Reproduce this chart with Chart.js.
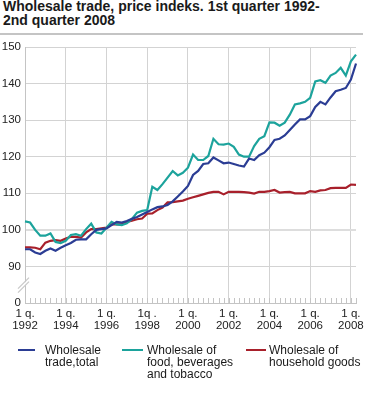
<!DOCTYPE html>
<html>
<head>
<meta charset="utf-8">
<script src="https://cdn.jsdelivr.net/npm/chart.js@4.4.1/dist/chart.umd.min.js"></script>
<style>
html,body{margin:0;padding:0;background:#fff;}
body{width:365px;height:394px;position:relative;overflow:hidden;font-family:"Liberation Sans",Arial,sans-serif;color:#1a1a1a;}
#title{position:absolute;left:3px;top:0px;font-weight:bold;font-size:14px;line-height:13.5px;white-space:nowrap;}
#rule{position:absolute;left:0;top:33px;width:363px;height:2px;background:#c4c4c4;}
canvas{position:absolute;left:0;top:0;}
.leg{position:absolute;font-size:12px;line-height:12px;white-space:nowrap;color:#1a1a1a;}
.sw{position:absolute;height:2.5px;}
</style>
</head>
<body>
<div id="title">Wholesale trade, price indeks. 1st quarter 1992-<br>2nd quarter 2008</div>
<div id="rule"></div>
<canvas id="c" width="365" height="394"></canvas>
<div id="legend"></div>
<script>
const quarters = [
 '1992Q1','1992Q2','1992Q3','1992Q4','1993Q1','1993Q2','1993Q3','1993Q4',
 '1994Q1','1994Q2','1994Q3','1994Q4','1995Q1','1995Q2','1995Q3','1995Q4',
 '1996Q1','1996Q2','1996Q3','1996Q4','1997Q1','1997Q2','1997Q3','1997Q4',
 '1998Q1','1998Q2','1998Q3','1998Q4','1999Q1','1999Q2','1999Q3','1999Q4',
 '2000Q1','2000Q2','2000Q3','2000Q4','2001Q1','2001Q2','2001Q3','2001Q4',
 '2002Q1','2002Q2','2002Q3','2002Q4','2003Q1','2003Q2','2003Q3','2003Q4',
 '2004Q1','2004Q2','2004Q3','2004Q4','2005Q1','2005Q2','2005Q3','2005Q4',
 '2006Q1','2006Q2','2006Q3','2006Q4','2007Q1','2007Q2','2007Q3','2007Q4',
 '2008Q1','2008Q2'
];
const wholesaleTotal = [
 94.7,94.7,93.8,93.4,94.3,94.9,94.3,95.1,
 95.8,96.4,97.3,97.4,97.4,98.8,100.0,100.2,
 100.4,101.3,102.2,102.0,102.4,103.0,103.5,104.2,
 104.9,105.6,106.2,106.4,106.8,107.8,109.1,110.5,
 112.0,115.0,116.1,118.0,118.2,119.8,119.0,118.2,
 118.4,118.0,117.6,117.3,119.5,119.1,120.4,121.1,
 122.6,124.6,124.9,125.8,127.3,128.8,130.2,130.2,
 131.1,133.6,135.0,134.3,136.2,137.9,138.3,138.8,
 141.1,145.5
];
const foodBeverages = [
 102.3,102.0,100.0,98.4,98.4,99.0,96.7,96.4,
 97.0,98.6,98.8,98.4,100.2,101.7,99.3,99.0,
 100.6,102.2,101.5,101.3,101.8,103.0,104.7,105.2,
 105.4,111.8,110.9,112.5,114.3,116.1,114.9,115.6,
 117.0,120.6,119.1,119.1,120.2,124.9,123.4,123.3,
 123.6,122.7,120.6,120.0,120.0,122.9,124.9,125.6,
 129.4,129.3,128.5,129.3,131.5,134.3,134.6,135.0,
 136.1,140.6,140.9,140.2,142.2,142.9,144.3,142.2,
 146.1,147.9
];
const householdGoods = [
 95.2,95.2,95.1,94.7,96.5,97.0,97.2,97.0,
 97.6,98.1,98.1,97.9,99.3,100.2,100.2,100.4,
 100.6,101.5,101.5,101.5,102.2,102.5,102.9,103.1,
 104.4,104.5,105.4,106.1,107.5,107.6,107.8,108.0,
 108.5,108.9,109.3,109.7,110.1,110.4,110.4,109.7,
 110.4,110.4,110.4,110.3,110.2,109.9,110.4,110.4,
 110.6,110.9,110.2,110.3,110.4,110.0,110.0,110.0,
 110.6,110.4,110.8,110.9,111.4,111.5,111.5,111.5,
 112.4,112.3
];
const seriesNames = [
 ['Wholesale','trade,total'],
 ['Wholesale of','food, beverages','and tobacco'],
 ['Wholesale of','household goods']
];
const seriesColors = ['#2b3d94','#1ca39c','#a8202b'];
const xTickLabels = [
 ['1 q.','1992'],['1 q.','1994'],['1 q.','1996'],['1q .','1998'],['1 q.','2000'],
 ['1 q.','2002'],['1 q.','2004'],['1 q.','2006'],['1 q.','2008']
];
const yTickValues = [80,90,100,110,120,130,140,150];
const yTickLabels = ['0','90','100','110','120','130','140','150'];

const extras = {
  id:'extras',
  beforeDatasetsDraw(chart){
    const ctx = chart.ctx, x = chart.scales.x, y = chart.scales.y;
    const b = chart.chartArea.bottom;
    ctx.save();
    ctx.strokeStyle = '#c4c4c4';
    ctx.lineWidth = 1;
    for (let i = 0; i < quarters.length; i++) {
      const px = Math.round(x.getPixelForValue(i)) + 0.5;
      ctx.beginPath(); ctx.moveTo(px, b); ctx.lineTo(px, b - 5); ctx.stroke();
    }
    // axis break
    const by = y.getPixelForValue(85.3);
    const lx = x.left;
    ctx.fillStyle = '#ffffff';
    ctx.beginPath();
    ctx.moveTo(lx - 6, by + 5); ctx.lineTo(lx + 3, by - 4);
    ctx.lineTo(lx + 3, by - 1); ctx.lineTo(lx - 6, by + 8); ctx.closePath(); ctx.fill();
    ctx.strokeStyle = '#c8c8c8';
    ctx.lineWidth = 1.2;
    ctx.beginPath(); ctx.moveTo(lx - 7, by + 5); ctx.lineTo(lx + 4, by - 6); ctx.stroke();
    ctx.beginPath(); ctx.moveTo(lx - 7, by + 9); ctx.lineTo(lx + 4, by - 2); ctx.stroke();
    ctx.restore();
  }
};

Chart.defaults.font.family = "'Liberation Sans', Arial, sans-serif";
Chart.defaults.font.size = 11.5;
Chart.defaults.color = '#222';

const chart = new Chart(document.getElementById('c'), {
  type:'line',
  data:{
    labels: quarters,
    datasets:[
      {label:seriesNames[0].join(' '), data:wholesaleTotal, borderColor:seriesColors[0]},
      {label:seriesNames[1].join(' '), data:foodBeverages, borderColor:seriesColors[1]},
      {label:seriesNames[2].join(' '), data:householdGoods, borderColor:seriesColors[2]}
    ].map(d => Object.assign(d, {borderWidth:2.2, pointRadius:0, tension:0, fill:false}))
  },
  options:{
    responsive:false,
    devicePixelRatio:1,
    animation:false,
    events:[],
    layout:{padding:{top:47,left:0,right:9,bottom:51}},
    plugins:{legend:{display:false},tooltip:{enabled:false},title:{display:false}},
    scales:{
      x:{
        type:'category',
        offset:false,
        afterBuildTicks(s){ s.ticks = xTickLabels.map((_, k) => ({value:k*8})); },
        afterFit(s){ s.height = 40; s.paddingLeft = 0; s.paddingRight = 0; },
        ticks:{autoSkip:false, maxRotation:0, padding:5, font:{size:11.5, lineHeight:1.05},
               callback:(v) => xTickLabels[v/8]},
        grid:{color:'#d3d3d3', lineWidth:1, drawTicks:false},
        border:{color:'#c4c4c4'}
      },
      y:{
        min:80, max:150,
        afterBuildTicks(s){ s.ticks = yTickValues.map(v => ({value:v})); },
        afterFit(s){ s.width = 25; s.paddingTop = 0; s.paddingBottom = 0; },
        ticks:{padding:4, callback:(v) => yTickLabels[yTickValues.indexOf(v)]},
        grid:{drawTicks:false,
              color:(c) => c.tick && c.tick.value === 100 ? '#dddddd' : '#d3d3d3',
              lineWidth:(c) => c.tick && c.tick.value === 100 ? 2 : 1},
        border:{color:'#c4c4c4'}
      }
    }
  },
  plugins:[extras]
});

// HTML legend built from the chart's datasets
const legendPos = [{sw:[18,35], tx:45},{sw:[122,143], tx:147},{sw:[246,266], tx:269}];
const leg = document.getElementById('legend');
chart.data.datasets.forEach((d, i) => {
  const sw = document.createElement('div');
  sw.className = 'sw';
  sw.style.left = legendPos[i].sw[0] + 'px';
  sw.style.width = (legendPos[i].sw[1] - legendPos[i].sw[0]) + 'px';
  sw.style.top = '348.5px';
  sw.style.background = d.borderColor;
  leg.appendChild(sw);
  const t = document.createElement('div');
  t.className = 'leg';
  t.style.left = legendPos[i].tx + 'px';
  t.style.top = '343.5px';
  t.innerHTML = seriesNames[i].join('<br>');
  leg.appendChild(t);
});
</script>
</body>
</html>
